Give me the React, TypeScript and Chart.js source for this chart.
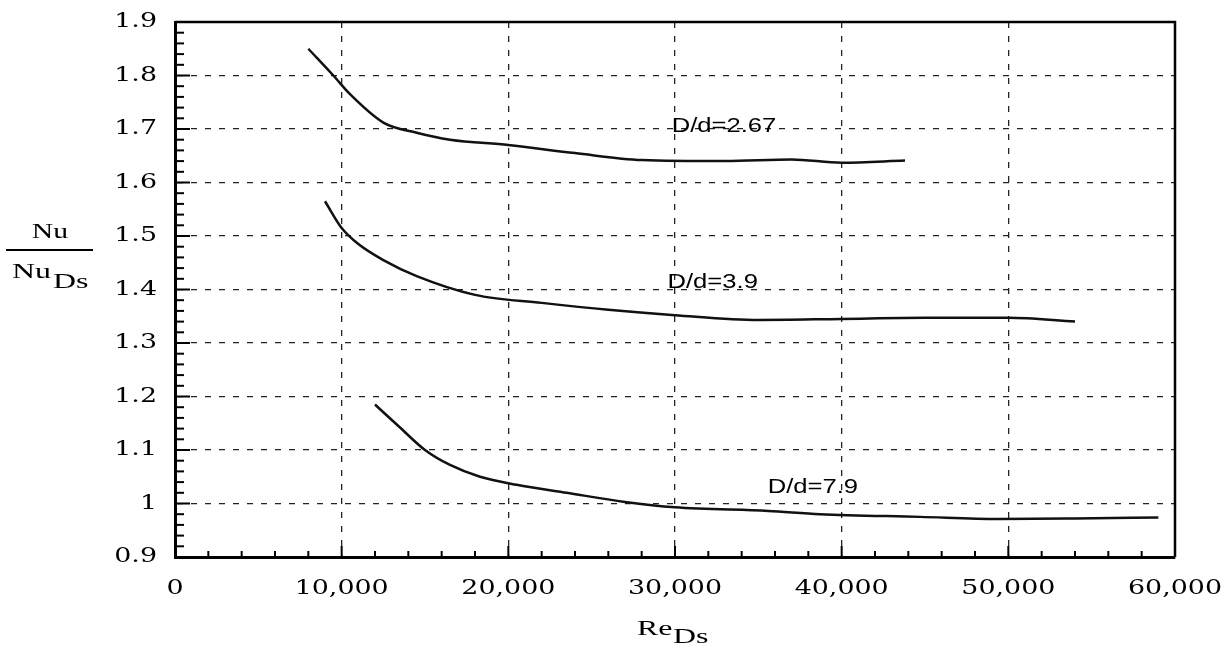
import { useEffect, useRef } from 'react';
import { Chart, registerables } from 'chart.js';

Chart.register(...registerables);

// Axis ranges
const xMin = 0;
const xMax = 60000;
const xStep = 10000;
const xMinorStep = 2000;
const yMin = 0.9;
const yMax = 1.9;
const yStep = 0.1;
const yMinorCount = 50; // minor ticks every 0.02

// D/d = 2.67
const re267 = [8000, 9500, 10500, 12500, 14500, 16500, 20000, 24000, 28000, 33000, 37000, 40000, 43800];
const nu267 = [1.85, 1.80, 1.765, 1.712, 1.693, 1.68, 1.67, 1.655, 1.642, 1.64, 1.643, 1.637, 1.641];

// D/d = 3.9
const re39 = [9000, 10000, 11000, 12500, 14500, 18000, 22000, 26000, 30000, 35000, 40000, 45000, 50000, 54000];
const nu39 = [1.565, 1.515, 1.485, 1.455, 1.425, 1.39, 1.375, 1.362, 1.352, 1.343, 1.345, 1.347, 1.347, 1.34];

// D/d = 7.9
const re79 = [12000, 13500, 15000, 16500, 18300, 20500, 23500, 27000, 30000, 35600, 38700, 44700, 49400, 54000, 59000];
const nu79 = [1.185, 1.142, 1.10, 1.072, 1.05, 1.035, 1.02, 1.003, 0.993, 0.986, 0.98, 0.975, 0.971, 0.972, 0.974];

// Curve labels
const labelTexts = ['D/d=2.67', 'D/d=3.9', 'D/d=7.9'];
const labelRe = [29800, 29550, 35560];
const labelNu = [1.706, 1.413, 1.031];

const tickFontCss = '21px "DejaVu Serif"';
const labelFontCss = '21px "Liberation Sans"';
const titleFontCss = '22px "Liberation Serif"';

const toPoints = (xs: number[], ys: number[]) => xs.map((x, i) => ({ x, y: ys[i] }));

const formatX = (v: number) => Number(v).toLocaleString('en-US');
const formatY = (v: number) => String(Number(Number(v).toFixed(1)));

function drawText(
  ctx: CanvasRenderingContext2D,
  text: string,
  x: number,
  y: number,
  align: CanvasTextAlign,
  baseline: CanvasTextBaseline,
  sx: number,
) {
  ctx.save();
  ctx.translate(x, y);
  ctx.scale(sx, 1);
  ctx.textAlign = align;
  ctx.textBaseline = baseline;
  ctx.fillText(text, 0, 0);
  ctx.restore();
}

const framePlugin = {
  id: 'frame',
  afterDraw(chart: any) {
    const { ctx, chartArea, scales } = chart;
    const { left, right, top, bottom } = chartArea;
    const xs = scales.x;
    const ys = scales.y;
    ctx.save();
    ctx.strokeStyle = '#000';
    ctx.lineWidth = 2.5;
    ctx.beginPath();
    ctx.moveTo(left, top);
    ctx.lineTo(right, top);
    ctx.lineTo(right, bottom);
    ctx.stroke();

    // minor ticks on x axis
    ctx.lineWidth = 2;
    for (let v = xMin; v <= xMax; v += xMinorStep) {
      const px = xs.getPixelForValue(v);
      const major = v % xStep === 0;
      const len = major ? 11 : 6;
      ctx.beginPath();
      ctx.moveTo(px, bottom);
      ctx.lineTo(px, bottom - len);
      ctx.stroke();
    }
    // minor ticks on y axis
    for (let i = 0; i <= yMinorCount; i++) {
      const v = yMin + (i * (yMax - yMin)) / yMinorCount;
      const py = ys.getPixelForValue(v);
      const major = i % 5 === 0;
      const len = major ? 15 : 9;
      ctx.beginPath();
      ctx.moveTo(left, py);
      ctx.lineTo(left + len, py);
      ctx.stroke();
    }

    ctx.fillStyle = '#000';

    // tick labels (from the scales' own ticks)
    ctx.font = tickFontCss;
    xs.ticks.forEach((t: any) => {
      const px = xs.getPixelForValue(t.value);
      drawText(ctx, formatX(t.value), px, bottom + 32, 'center', 'middle', 1.28);
    });
    ys.ticks.forEach((t: any) => {
      const py = ys.getPixelForValue(t.value);
      drawText(ctx, formatY(t.value), left - 18, py, 'right', 'middle', 1.28);
    });

    // curve labels
    ctx.font = labelFontCss;
    labelTexts.forEach((t, i) => {
      const px = xs.getPixelForValue(labelRe[i]);
      const py = ys.getPixelForValue(labelNu[i]);
      drawText(ctx, t, px, py, 'left', 'middle', 1.22);
    });

    // y title: Nu / Nu_Ds
    ctx.font = titleFontCss;
    drawText(ctx, 'Nu', 50, 238, 'center', 'alphabetic', 1.35);
    ctx.lineWidth = 2;
    ctx.beginPath();
    ctx.moveTo(6, 250);
    ctx.lineTo(93, 250);
    ctx.stroke();
    drawText(ctx, 'Nu', 12, 278, 'left', 'alphabetic', 1.45);
    drawText(ctx, 'Ds', 53, 288, 'left', 'alphabetic', 1.45);

    // x title: Re_Ds
    drawText(ctx, 'Re', 637, 635, 'left', 'alphabetic', 1.45);
    drawText(ctx, 'Ds', 673, 643, 'left', 'alphabetic', 1.45);

    ctx.restore();
  },
};

export default function App() {
  const canvasRef = useRef<HTMLCanvasElement>(null);

  useEffect(() => {
    if (!canvasRef.current) return;
    const lineStyle = {
      borderColor: '#111',
      borderWidth: 2.5,
      pointRadius: 0,
      fill: false,
      cubicInterpolationMode: 'monotone' as const,
    };
    const chart = new Chart(canvasRef.current, {
      type: 'line',
      data: {
        datasets: [
          { label: 'D/d=2.67', data: toPoints(re267, nu267), ...lineStyle },
          { label: 'D/d=3.9', data: toPoints(re39, nu39), ...lineStyle },
          { label: 'D/d=7.9', data: toPoints(re79, nu79), ...lineStyle },
        ],
      },
      options: {
        responsive: false,
        animation: false,
        layout: { padding: { top: 22, right: 53, left: 0, bottom: 0 } },
        plugins: { legend: { display: false }, tooltip: { enabled: false } },
        scales: {
          x: {
            type: 'linear',
            min: xMin,
            max: xMax,
            afterFit: (s: any) => {
              s.height = 90;
            },
            ticks: {
              display: false,
              stepSize: xStep,
              autoSkip: false,
              maxRotation: 0,
            },
            grid: {
              drawTicks: false,
              lineWidth: 1.3,
              color: (c: any) =>
                c.tick && (c.tick.value === xMin || c.tick.value === xMax) ? 'rgba(0,0,0,0)' : '#222',
            },
            border: { color: '#000', width: 3, dash: [6, 8] },
          },
          y: {
            type: 'linear',
            min: yMin,
            max: yMax,
            afterFit: (s: any) => {
              s.width = 175;
            },
            ticks: {
              display: false,
              stepSize: yStep,
            },
            grid: {
              drawTicks: false,
              lineWidth: 1.3,
              color: (c: any) =>
                c.tick && (Math.abs(c.tick.value - yMin) < 1e-6 || Math.abs(c.tick.value - yMax) < 1e-6)
                  ? 'rgba(0,0,0,0)'
                  : '#222',
            },
            border: { color: '#000', width: 3, dash: [6, 8] },
          },
        },
      },
      plugins: [framePlugin],
    });
    return () => chart.destroy();
  }, []);

  return (
    <div style={{ position: 'fixed', left: 0, top: 0, width: 1228, height: 647, background: '#fff' }}>
      <canvas ref={canvasRef} width={1228} height={647} />
    </div>
  );
}
